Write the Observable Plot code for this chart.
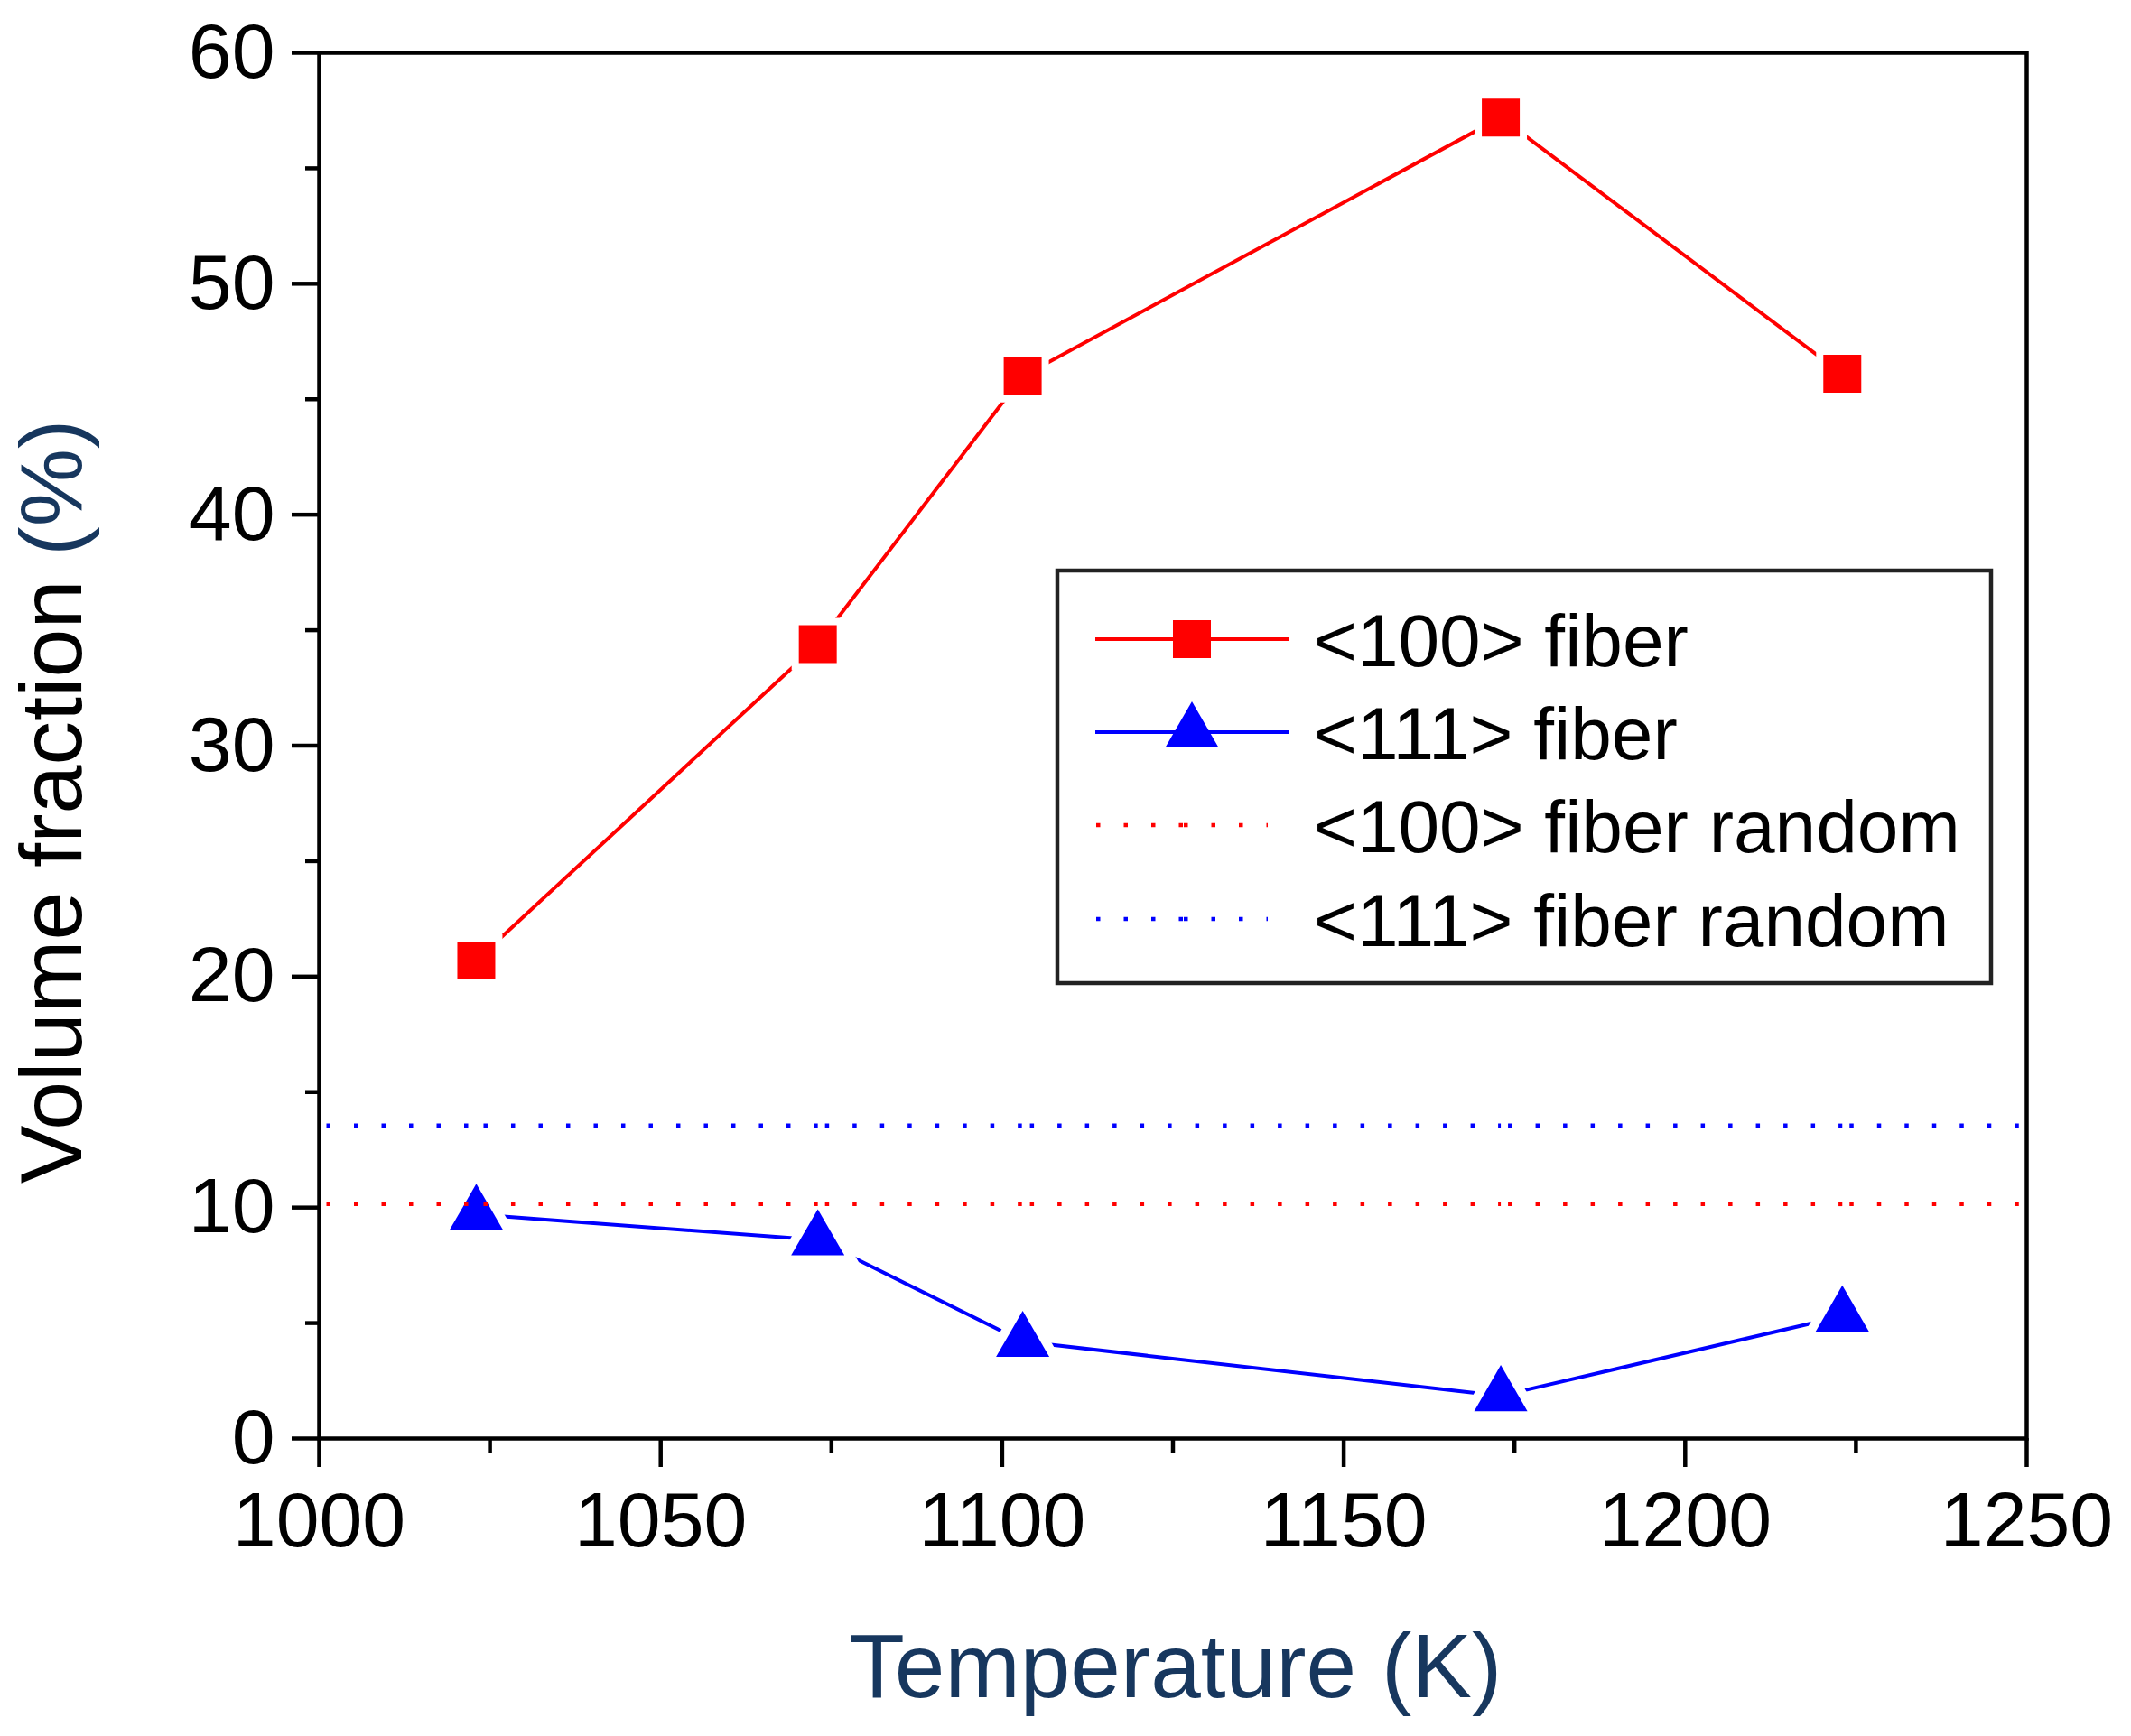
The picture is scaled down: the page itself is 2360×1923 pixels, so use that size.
<!DOCTYPE html>
<html><head><meta charset="utf-8">
<script src="https://cdn.jsdelivr.net/npm/d3@7"></script>
<script src="https://cdn.jsdelivr.net/npm/@observablehq/plot@0.6"></script>
<style>html,body{margin:0;padding:0;background:#fff;overflow:hidden}</style>
</head><body><div id="chart"></div>
<script>
const temperatures = [1023, 1073, 1103, 1173, 1223];
const fiber100 = [20.7, 34.4, 46.0, 57.2, 46.1];
const fiber111 = [9.7, 8.6, 4.2, 1.85, 5.3];
const random100 = 10.15;
const random111 = 13.55;
const xTicks = [1000, 1050, 1100, 1150, 1200, 1250];
const xMinorTicks = [1025, 1075, 1125, 1175, 1225];
const yTicks = [0, 10, 20, 30, 40, 50, 60];
const yMinorTicks = [5, 15, 25, 35, 45, 55];
const seriesNames = ["<100> fiber", "<111> fiber", "<100> fiber random", "<111> fiber random"];
const xLabel = "Temperature (K)";
const yLabelMain = "Volume fraction ";
const yLabelUnit = "(%)";

const RED = "#ff0000", BLUE = "#0000ff", NAVY = "#17375e";
const FONT = "'Liberation Sans', Arial, sans-serif";

const rows100 = temperatures.map((t, i) => ({t, v: fiber100[i]}));
const rows111 = temperatures.map((t, i) => ({t, v: fiber111[i]}));
const breaks = [xTicks[0], ...temperatures, xTicks[xTicks.length - 1]];
const segs = (v) => breaks.slice(0, -1).map((b, i) => ({x1: b, x2: breaks[i + 1], y: v}));

const SQ_R = 23.7, SQ_HALO = 32.7, TRI_R = 21.9, TRI_HALO = 34.7;
const AXW = 4.5, LW = 4;
const dotted = {strokeWidth: 4.5, strokeDasharray: "4.5 26", strokeDashoffset: -8};

const plot = Plot.plot({
  width: 2360, height: 1923,
  marginLeft: 353, marginRight: 116, marginTop: 58, marginBottom: 330,
  style: {fontFamily: FONT, background: "#fff", overflow: "visible"},
  x: {domain: [xTicks[0], xTicks[xTicks.length - 1]]},
  y: {domain: [yTicks[0], yTicks[yTicks.length - 1]]},
  marks: [
    Plot.line(rows100, {x: "t", y: "v", stroke: RED, strokeWidth: LW}),
    Plot.line(rows111, {x: "t", y: "v", stroke: BLUE, strokeWidth: LW}),
    Plot.dot(rows100, {x: "t", y: "v", symbol: "square", r: SQ_HALO, fill: "white"}),
    Plot.dot(rows111, {x: "t", y: "v", symbol: "triangle", r: TRI_HALO, fill: "white"}),
    Plot.dot(rows100, {x: "t", y: "v", symbol: "square", r: SQ_R, fill: RED}),
    Plot.dot(rows111, {x: "t", y: "v", symbol: "triangle", r: TRI_R, fill: BLUE}),
    Plot.link(segs(random100), {x1: "x1", x2: "x2", y1: "y", y2: "y", stroke: RED, ...dotted}),
    Plot.link(segs(random111), {x1: "x1", x2: "x2", y1: "y", y2: "y", stroke: BLUE, ...dotted}),
    Plot.axisY({ticks: yTicks, tickSize: 30, tickPadding: 19, fontSize: 86, strokeWidth: AXW, label: null, fill: "black"}),
    Plot.axisY({ticks: yMinorTicks, tickSize: 15, text: null, strokeWidth: AXW, label: null}),
    Plot.axisX({ticks: xTicks, tickSize: 32, tickPadding: 26, fontSize: 86, strokeWidth: AXW, label: null, tickFormat: d3.format("d"), fill: "black"}),
    Plot.axisX({ticks: xMinorTicks, tickSize: 16, text: null, strokeWidth: AXW, label: null}),
    Plot.frame({stroke: "black", strokeWidth: AXW})
  ]
});
document.getElementById("chart").appendChild(plot);

const svg = d3.select(plot);
// axis titles
svg.append("text")
  .attr("x", 1302).attr("y", 1880)
  .attr("text-anchor", "middle")
  .attr("font-family", FONT).attr("font-size", 100)
  .attr("fill", NAVY).text(xLabel);
const yl = svg.append("text")
  .attr("transform", "translate(90,888) rotate(-90)")
  .attr("text-anchor", "middle")
  .attr("font-family", FONT).attr("font-size", 97);
yl.append("tspan").attr("fill", "black").text(yLabelMain);
yl.append("tspan").attr("fill", NAVY).text(yLabelUnit);

// legend
const lg = svg.append("g");
lg.append("rect").attr("x", 1171).attr("y", 632).attr("width", 1034).attr("height", 457)
  .attr("fill", "white").attr("stroke", "#222").attr("stroke-width", AXW);
const rowY = [708, 811, 914, 1018];
const colors = [RED, BLUE, RED, BLUE];
rowY.forEach((y, i) => {
  if (i < 2) {
    lg.append("line").attr("x1", 1213).attr("x2", 1428).attr("y1", y).attr("y2", y)
      .attr("stroke", colors[i]).attr("stroke-width", LW);
    const sym = i === 0
      ? d3.symbol(d3.symbolSquare, SQ_R * SQ_R * Math.PI)
      : d3.symbol(d3.symbolTriangle, TRI_R * TRI_R * Math.PI);
    lg.append("path").attr("d", sym()).attr("transform", `translate(1320,${y})`).attr("fill", colors[i]);
  } else {
    [[1213, 1310], [1310, 1404]].forEach(([a, b]) => {
      lg.append("line").attr("x1", a).attr("x2", b).attr("y1", y).attr("y2", y)
        .attr("stroke", colors[i]).attr("stroke-width", 4.5)
        .attr("stroke-dasharray", "4.5 26").attr("stroke-dashoffset", -1);
    });
  }
  lg.append("text").attr("x", 1455).attr("y", y).attr("dy", "0.36em")
    .attr("text-anchor", "start")
    .attr("font-family", FONT).attr("font-size", 82).attr("fill", "black")
    .text(seriesNames[i]);
});
</script>
</body></html>
